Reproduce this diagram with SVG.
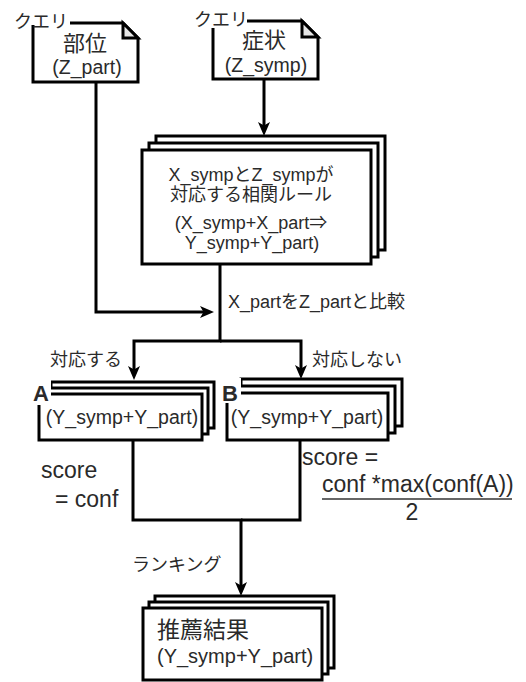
<svg xmlns="http://www.w3.org/2000/svg" width="526" height="682" viewBox="0 0 526 682">
<style>
  .sh{fill:#fff;stroke:#000;stroke-width:3;stroke-linejoin:miter}
  .fold{fill:#e6e6e6;stroke:#000;stroke-width:3;stroke-linejoin:miter}
  .ln{fill:none;stroke:#000;stroke-width:3;stroke-linejoin:miter}
  text{font-family:"Liberation Sans","Noto Sans CJK JP",Arial,sans-serif;fill:#2a2a2a}
  .c{text-anchor:middle}
  .bg{fill:#fff}
</style>
<defs>
  <marker id="arr" viewBox="0 0 14 12" refX="8" refY="6" markerWidth="14" markerHeight="12" markerUnits="userSpaceOnUse" orient="auto">
    <path d="M0,0 L14,6 L0,12 L3.5,6 Z" fill="#000"/>
  </marker>
</defs>

<g id="connectors">
  <path class="ln" d="M96,82 V312 H208" marker-end="url(#arr)"/>
  <path class="ln" d="M264,79 V130" marker-end="url(#arr)"/>
  <path class="ln" d="M220,264 V341 H134 V374" marker-end="url(#arr)"/>
  <path class="ln" d="M220,341 H301 V373" marker-end="url(#arr)"/>
  <path class="ln" d="M133,440 V520 H241 V590" marker-end="url(#arr)"/>
  <path class="ln" d="M300,440 V520 H241"/>
</g>

<g id="query-part">
  <path class="sh" d="M33,23 H123 L138,38 V82 H33 Z"/>
  <path class="fold" d="M123,23 V38 H138 Z"/>
  <rect class="bg" x="13" y="9" width="57" height="16"/>
  <text x="14" y="28" font-size="18">クエリ</text>
  <text class="c" x="85" y="51" font-size="22">部位</text>
  <text class="c" x="87" y="74" font-size="19.5">(Z_part)</text>
</g>

<g id="query-symp">
  <path class="sh" d="M213,21 H302 L318,37 V79 H213 Z"/>
  <path class="fold" d="M302,21 V37 H318 Z"/>
  <rect class="bg" x="193" y="7" width="54" height="21"/>
  <text x="194" y="26" font-size="18">クエリ</text>
  <text class="c" x="264" y="48" font-size="22">症状</text>
  <text class="c" x="266" y="72" font-size="19.5">(Z_symp)</text>
</g>

<g id="rules">
  <rect class="sh" x="156" y="136" width="229" height="114"/>
  <rect class="sh" x="149" y="143" width="229" height="114"/>
  <rect class="sh" x="142" y="150" width="229" height="114"/>
  <text class="c" x="251" y="181" font-size="18">X_sympとZ_sympが</text>
  <text class="c" x="251" y="201" font-size="18">対応する相関ルール</text>
  <text class="c" x="251" y="229" font-size="18">(X_symp+X_part⇒</text>
  <text class="c" x="252" y="249" font-size="18">Y_symp+Y_part)</text>
</g>

<g id="labels">
  <text x="228" y="308" font-size="18">X_partをZ_partと比較</text>
  <text x="50" y="366" font-size="18">対応する</text>
  <text x="312" y="366" font-size="18">対応しない</text>
  <text x="41" y="478" font-size="23">score</text>
  <text x="55" y="507" font-size="23">= conf</text>
  <text x="302" y="465" font-size="23">score =</text>
  <text x="322" y="492" font-size="23">conf *max(conf(A))</text>
  <line x1="322" y1="499" x2="512" y2="499" stroke="#333" stroke-width="1.5"/>
  <text class="c" x="412" y="520" font-size="23">2</text>
  <text x="132" y="571" font-size="18">ランキング</text>
</g>

<g id="setA">
  <rect class="sh" x="51" y="382" width="163" height="46"/>
  <rect class="sh" x="45" y="388" width="163" height="46"/>
  <rect class="sh" x="39" y="394" width="163" height="46"/>
  <rect class="bg" x="30" y="379" width="21" height="26"/>
  <text class="c" x="41" y="401" font-size="22" font-weight="bold" fill="#000">A</text>
  <text class="c" x="122" y="424" font-size="19.5">(Y_symp+Y_part)</text>
</g>

<g id="setB">
  <rect class="sh" x="241" y="379" width="161" height="47"/>
  <rect class="sh" x="234" y="386" width="161" height="47"/>
  <rect class="sh" x="227" y="393" width="161" height="47"/>
  <rect class="bg" x="220" y="378" width="21" height="25"/>
  <text class="c" x="230" y="401" font-size="22" font-weight="bold" fill="#000">B</text>
  <text class="c" x="307" y="424" font-size="19.5">(Y_symp+Y_part)</text>
</g>

<g id="result">
  <rect class="sh" x="155" y="596" width="179" height="72"/>
  <rect class="sh" x="149" y="602" width="179" height="72"/>
  <rect class="sh" x="143" y="608" width="179" height="72"/>
  <text x="157" y="638" font-size="23">推薦結果</text>
  <text x="157" y="663" font-size="20">(Y_symp+Y_part)</text>
</g>
</svg>
